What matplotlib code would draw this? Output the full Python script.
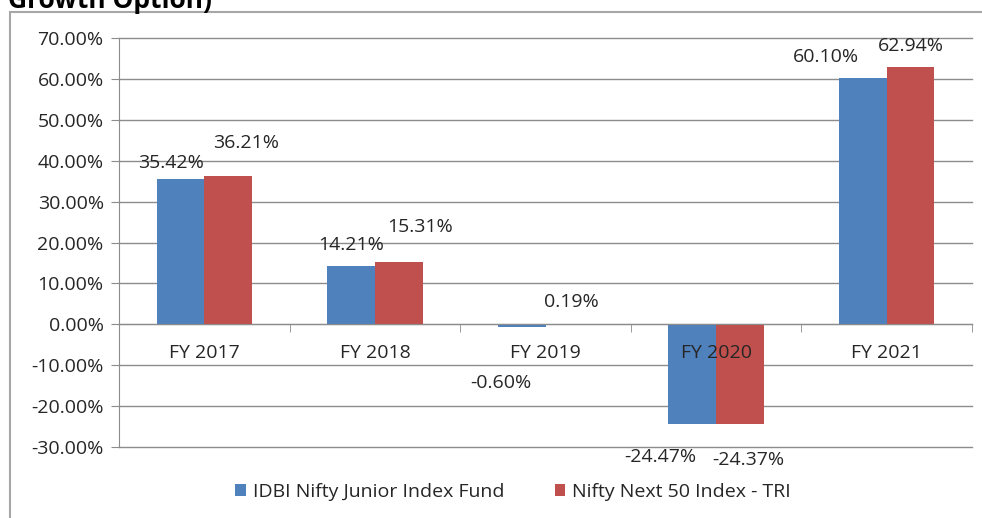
import matplotlib
matplotlib.use("Agg")
import matplotlib.pyplot as plt
from matplotlib.patches import Rectangle
import matplotlib.transforms as mtransforms
import numpy as np

categories = ["FY 2017", "FY 2018", "FY 2019", "FY 2020", "FY 2021"]
fund = [35.42, 14.21, -0.60, -24.47, 60.10]
index_tri = [36.21, 15.31, 0.19, -24.37, 62.94]
series_names = ["IDBI Nifty Junior Index Fund", "Nifty Next 50 Index - TRI"]
yticks = [-30, -20, -10, 0, 10, 20, 30, 40, 50, 60, 70]

# label offsets in pixels (dx, dy) relative to bar end
fund_off = [(-9, 16), (0, 21), (-21, -56), (-32, -33), (-37, 21)]
idx_off = [(18, 33), (21, 35), (2, 22), (8, -36), (0, 21)]

plt.rcParams['font.family'] = ['Open Sans', 'DejaVu Sans']
txt = '#262626'
FS = 14

fig = plt.figure(figsize=(9.82, 5.18), dpi=100)
ax = fig.add_axes([119/982, 1-447/518, (972-119)/982, (447-38)/518])

x = np.arange(len(categories))
w = 0.28
b1 = ax.bar(x - w/2, fund, w, color='#4F81BD', label=series_names[0], zorder=3)
b2 = ax.bar(x + w/2, index_tri, w, color='#C0504D', label=series_names[1], zorder=3)

ax.set_xlim(-0.5, len(categories) - 0.5)
ax.set_ylim(-30, 70)
ax.set_yticks(yticks)
ax.set_yticklabels([f"{v:.2f}%" for v in yticks], fontsize=FS, color=txt)
ax.yaxis.grid(True, color='#8c8c8c', linewidth=1)
for gl in ax.get_ygridlines():
    gl.set_clip_on(False)
ax.set_axisbelow(True)
ax.tick_params(axis='y', length=6, color='#8c8c8c', pad=5)

for s in ['top', 'right']:
    ax.spines[s].set_visible(False)
ax.spines['left'].set_color('#8c8c8c')
ax.spines['bottom'].set_position(('data', 0))
ax.spines['bottom'].set_color('#8c8c8c')
ax.spines['bottom'].set_zorder(4)

ax.set_xticks(x)
ax.set_xticklabels([])
ax.tick_params(axis='x', which='major', length=0)
ax.set_xticks(np.arange(len(categories) + 1) - 0.5, minor=True)
ax.tick_params(axis='x', which='minor', length=6, direction='out', color='#8c8c8c')

# category labels drawn in front of the bars
off = mtransforms.offset_copy(ax.transData, fig=fig, x=0, y=-29, units='dots')
for xi, c in zip(x, categories):
    ax.text(xi, 0, c, transform=off, ha='center', va='center', fontsize=FS,
            color=txt, zorder=6)

for bars, vals, offs in [(b1, fund, fund_off), (b2, index_tri, idx_off)]:
    for bar, v, (dx, dy) in zip(bars, vals, offs):
        cx = bar.get_x() + bar.get_width()/2
        ax.annotate(f"{v:.2f}%", (cx, v), xytext=(dx*0.72, dy*0.72),
                    textcoords='offset points', ha='center', va='center',
                    fontsize=FS, color=txt, zorder=6)

leg = fig.legend(handles=[b1, b2], loc='center', bbox_to_anchor=(513/982, 1-492/518),
                 ncol=2, frameon=False, fontsize=FS, handlelength=0.55, handleheight=0.55,
                 handletextpad=0.35, columnspacing=2.6)
for t in leg.get_texts():
    t.set_color(txt)

fig.patches.append(Rectangle((10/982, -0.05), 1.0, 1 - 12/518 + 0.05, transform=fig.transFigure,
                             fill=False, edgecolor='#a6a6a6', linewidth=1.5))
fig.text(8/982, 1 - 8/518, "Growth Option)", fontsize=19, fontweight='bold', va='baseline', ha='left', color='black')

fig.savefig("out.png", dpi=100)
